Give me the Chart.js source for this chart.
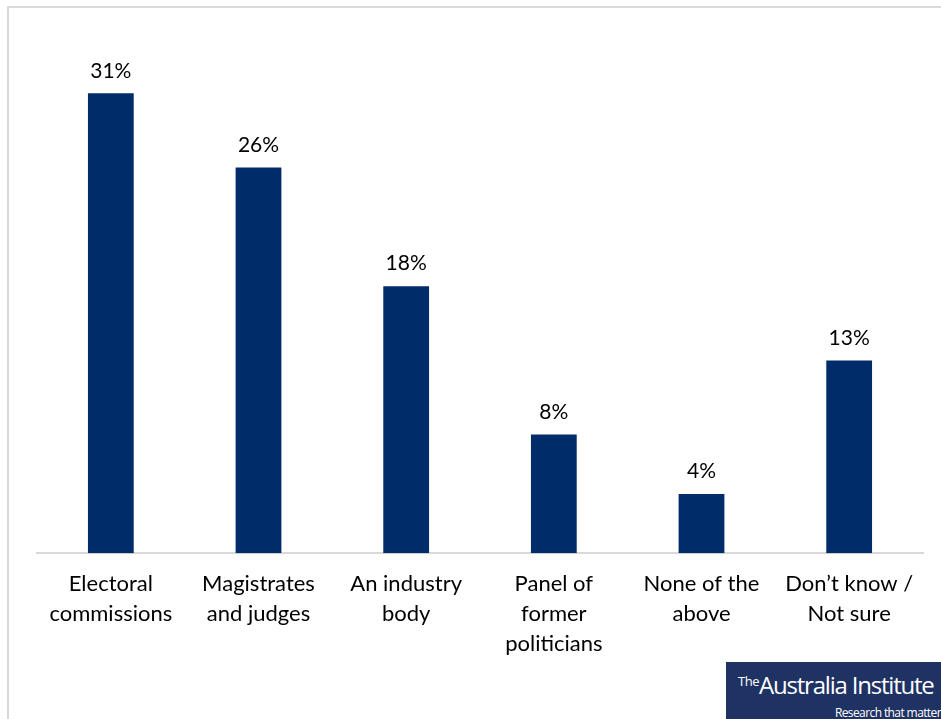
<!DOCTYPE html>
<html>
<head>
<meta charset="utf-8">
<script src="https://cdn.jsdelivr.net/npm/chart.js@4.4.0/dist/chart.umd.min.js"></script>
<style>
  body { margin: 0; background: #fff; }
  #wrap { position: relative; width: 941px; height: 719px; overflow: hidden; }
  #frame { position: absolute; left: 7px; top: 6px; right: -5px; bottom: -5px;
           border-left: 2px solid #d9d9d9; border-top: 2px solid #d9d9d9; }
  #grafico { position: absolute; left: 0; top: 0; }
  #logo { position: absolute; left: 726px; top: 662px; width: 215px; height: 57px;
          background: #1f3264; color: #fff; font-family: 'Open Sans', sans-serif; }
  #logo .nome { position: absolute; left: 12px; top: 6px; font-size: 24px; letter-spacing: -1.2px; white-space: nowrap; }
  #logo .nome sup { font-size: 13px; vertical-align: 8px; letter-spacing: -0.5px; }
  #logo .lema { position: absolute; right: 0; top: 42px; font-size: 12px; letter-spacing: -0.6px; white-space: nowrap; }
</style>
</head>
<body>
<div id="wrap">
  <div id="frame"></div>
  <canvas id="grafico" width="941" height="719"></canvas>
  <div id="logo"><span class="nome"><sup>The</sup>Australia Institute</span><span class="lema">Research that matter</span></div>
</div>
<script>
// Categorias e valores (%)
const categorias = [
    ['Electoral', 'commissions'],
    ['Magistrates', 'and judges'],
    ['An industry', 'body'],
    ['Panel of', 'former', 'politicians'],
    ['None of the', 'above'],
    ['Don\u2019t know /', 'Not sure']
];
const valores = [31, 26, 18, 8, 4, 13];

// Plugin para escrever o valor acima de cada barra
const rotulosValores = {
    id: 'rotulosValores',
    afterDatasetsDraw(chart) {
        const ctx = chart.ctx;
        const meta = chart.getDatasetMeta(0);
        ctx.save();
        ctx.font = '21px Lato';
        ctx.fillStyle = '#000';
        ctx.textAlign = 'center';
        ctx.textBaseline = 'bottom';
        meta.data.forEach((barra, i) => {
            ctx.fillText(valores[i] + '%', barra.x, barra.y - 12);
        });
        ctx.restore();
    }
};

const ctxBarra = document.getElementById('grafico').getContext('2d');
const graficoBarra = new Chart(ctxBarra, {
    type: 'bar',
    data: {
        labels: categorias,
        datasets: [{
            data: valores,
            backgroundColor: '#002d69',
            barPercentage: 0.31,
            categoryPercentage: 1
        }]
    },
    options: {
        responsive: false,
        animation: false,
        layout: { padding: { left: 37, right: 18, top: 34, bottom: 52 } },
        plugins: { legend: { display: false }, tooltip: { enabled: false } },
        scales: {
            x: {
                grid: { display: false },
                border: { display: true, color: '#d9d9d9', width: 2 },
                ticks: {
                    color: '#000',
                    font: { family: 'Lato', size: 22, lineHeight: 1.36 },
                    padding: 8,
                    maxRotation: 0
                }
            },
            y: {
                display: false,
                min: 0,
                max: 35
            }
        }
    },
    plugins: [rotulosValores]
});
</script>
</body>
</html>
